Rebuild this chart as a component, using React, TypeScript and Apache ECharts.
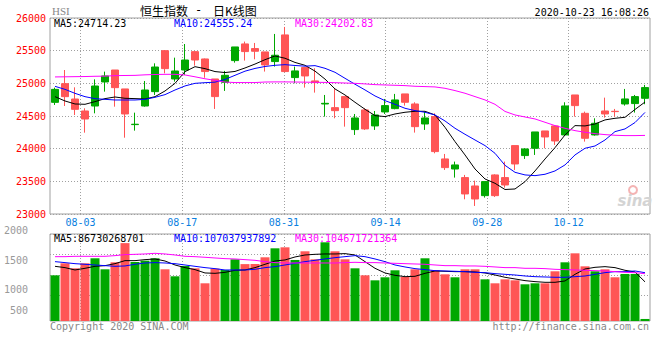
import React, { useEffect, useRef } from "react";
import * as echarts from "echarts";

const DATES = [
  "07-29", "07-30", "07-31", "08-03", "08-04", "08-05", "08-06", "08-07", "08-10", "08-11",
  "08-12", "08-13", "08-14", "08-17", "08-18", "08-19", "08-20", "08-21", "08-24", "08-25",
  "08-26", "08-27", "08-28", "08-31", "09-01", "09-02", "09-03", "09-04", "09-07", "09-08",
  "09-09", "09-10", "09-11", "09-14", "09-15", "09-16", "09-17", "09-18", "09-21", "09-22",
  "09-23", "09-24", "09-25", "09-28", "09-29", "09-30", "10-05", "10-06", "10-07", "10-08",
  "10-09", "10-12", "10-14", "10-15", "10-16", "10-19", "10-20", "10-21", "10-22", "10-23",
];
const TICK_DATES = ["08-03", "08-17", "08-31", "09-14", "09-28", "10-12"];

const OPEN = [
  24709, 24995, 24760, 24577, 24653, 25021, 25204, 24914, 24368, 24653,
  24873, 25500, 25067, 25204, 25485, 25373, 25067, 25016, 25348, 25603,
  25532, 25481, 25333, 25741, 25088, 25241, 25037, 24684, 24628, 24797,
  24292, 24593, 24348, 24562, 24613, 24838, 24684, 24378, 24491, 23843,
  23689, 23557, 23429, 23281, 23598, 23557, 24047, 23894, 24006, 24271,
  24348, 24210, 24822, 24541, 24210, 24577, 24572, 24684, 24690, 24771,
];
const CLOSE = [
  24908, 24796, 24602, 24454, 24959, 25113, 24934, 24531, 24374, 24898,
  25250, 25225, 25189, 25357, 25357, 25180, 24797, 25123, 25557, 25486,
  25491, 25282, 25430, 25180, 25190, 25113, 25011, 24694, 24582, 24628,
  24470, 24302, 24516, 24659, 24746, 24710, 24337, 24470, 23955, 23710,
  23751, 23307, 23230, 23496, 23281, 23444, 23766, 23996, 24256, 24179,
  24118, 24654, 24659, 24159, 24389, 24531, 24567, 24761, 24797, 24935,
];
const LOW = [
  24669, 24653, 24515, 24245, 24541, 24873, 24643, 24168, 24276, 24643,
  24822, 25153, 25026, 25128, 25271, 25085, 24608, 24884, 25317, 25348,
  25368, 25180, 25256, 25170, 25001, 24935, 24858, 24491, 24465, 24337,
  24210, 24287, 24287, 24531, 24603, 24659, 24246, 24287, 23929, 23674,
  23557, 23225, 23123, 23251, 23261, 23404, 23674, 23843, 23904, 24006,
  24057, 24200, 24491, 24108, 24200, 24475, 24491, 24659, 24552, 24680,
];
const HIGH = [
  24934, 25204, 24939, 24618, 25061, 25179, 25204, 24914, 24551, 25036,
  25306, 25510, 25393, 25602, 25495, 25380, 25067, 25190, 25557, 25639,
  25618, 25481, 25756, 25863, 25256, 25241, 25230, 24822, 24919, 24797,
  24531, 24618, 24577, 24761, 24838, 24838, 24710, 24567, 24541, 23919,
  23802, 23598, 23511, 23496, 23608, 23802, 24047, 24006, 24256, 24271,
  24348, 24710, 24822, 24567, 24465, 24781, 24608, 24914, 24822, 24976,
];

const MA5 = [
  24796, 24730, 24684, 24679, 24720, 24766, 24791, 24771, 24766, 24760,
  24796, 24883, 25000, 25179, 25255, 25225, 25180, 25165, 25182, 25235,
  25295, 25362, 25419, 25384, 25320, 25276, 25187, 25065, 24914, 24822,
  24710, 24603, 24506, 24491, 24531, 24557, 24572, 24572, 24516, 24327,
  24108, 23904, 23689, 23536, 23470, 23375, 23383, 23495, 23659, 23842,
  24016, 24210, 24353, 24348, 24378, 24440, 24465, 24480, 24600, 24714,
];
const MA10 = [
  24954, 24908, 24847, 24796, 24765, 24755, 24745, 24745, 24745, 24755,
  24786, 24827, 24898, 24960, 25000, 25010, 25018, 25060, 25123, 25186,
  25228, 25258, 25276, 25286, 25273, 25263, 25271, 25230, 25169, 25077,
  24986, 24899, 24807, 24735, 24679, 24618, 24582, 24557, 24516, 24424,
  24312, 24220, 24133, 24047, 23929, 23745, 23638, 23598, 23587, 23608,
  23659, 23751, 23904, 24006, 24041, 24133, 24261, 24302, 24400, 24555,
];
const MA30 = [
  25098, 25100, 25102, 25104, 25108, 25110, 25118, 25120, 25122, 25130,
  25135, 25138, 25138, 25128, 25100, 25070, 25045, 25020, 25012, 25012,
  25012, 25020, 25022, 25022, 25020, 25018, 25016, 25014, 25010, 25005,
  25000, 24991, 24980, 24975, 24970, 24965, 24955, 24950, 24945, 24924,
  24889, 24848, 24797, 24746, 24679, 24570, 24516, 24485, 24455, 24404,
  24353, 24312, 24276, 24251, 24230, 24215, 24205, 24200, 24200, 24203,
];

// turnover, in 100 millions HKD (亿)
const VOLUME = [
  1012, 1278, 1167, 1278, 1389, 1145, 1300, 1725, 1307, 1337,
  1389, 1145, 990, 1219, 1167, 835, 1160, 1130, 1366, 1260,
  1263, 1411, 1610, 1632, 1352, 1544, 1366, 1743, 1544, 1366,
  1167, 1012, 901, 968, 1123, 975, 1145, 1389, 1123, 1034,
  968, 1145, 1145, 923, 835, 923, 901, 813, 835, 835,
  1101, 1300, 1499, 1211, 1101, 1145, 968, 1042, 1042, 45,
];
const VOL_MA5 = [
  1211, 1182, 1130, 1167, 1211, 1226, 1270, 1337, 1337, 1359,
  1374, 1329, 1241, 1182, 1138, 1064, 1056, 1078, 1123, 1130,
  1182, 1256, 1329, 1352, 1418, 1462, 1477, 1485, 1485, 1492,
  1462, 1315, 1167, 1064, 1012, 982, 990, 1056, 1108, 1101,
  1093, 1093, 1086, 1064, 1019, 968, 931, 894, 872, 857,
  857, 887, 1034, 1152, 1189, 1204, 1182, 1123, 1086, 867,
];
const VOL_MA10 = [
  1315, 1293, 1270, 1256, 1241, 1226, 1211, 1219, 1256, 1285,
  1293, 1285, 1270, 1241, 1211, 1182, 1160, 1130, 1130, 1130,
  1145, 1182, 1204, 1241, 1278, 1315, 1344, 1374, 1403, 1425,
  1448, 1425, 1374, 1315, 1241, 1197, 1160, 1138, 1115, 1108,
  1101, 1093, 1078, 1071, 1049, 1034, 1019, 997, 982, 975,
  968, 968, 982, 997, 1034, 1071, 1093, 1093, 1108, 1070,
];
const VOL_MA30 = [
  1425, 1425, 1433, 1433, 1433, 1433, 1448, 1470, 1477, 1485,
  1499, 1485, 1462, 1433, 1425, 1411, 1396, 1381, 1374, 1359,
  1344, 1315, 1293, 1285, 1285, 1285, 1285, 1285, 1285, 1293,
  1300, 1293, 1293, 1285, 1278, 1270, 1263, 1256, 1241, 1226,
  1226, 1219, 1219, 1211, 1197, 1182, 1182, 1167, 1167, 1160,
  1145, 1138, 1130, 1123, 1115, 1108, 1093, 1078, 1071, 1047,
];
const VOL_TICKS = [500, 1000, 1500, 2000];

const TITLE_PARTS = ["恒生指数", "-", "日K线图"];
const SYMBOL = "HSI";
const TIMESTAMP = "2020-10-23 16:08:26";
const MAIN_LEGEND = ["MA5:24714.23", "MA10:24555.24", "MA30:24202.83"];
const VOL_LEGEND = ["MA5:86730268701", "MA10:107037937892", "MA30:104671721364"];
const COPYRIGHT = "Copyright 2020 SINA.COM";
const URL_TEXT = "http://finance.sina.com.cn";

const MONO = '"DejaVu Sans Mono", "Liberation Mono", monospace';
const RED = "#ff5555";
const GREEN = "#00a800";
const MA_COLORS = ["#000000", "#0000ff", "#ff00ff"];
const GRID_LINE = { color: "#a0a0a0", type: [1, 2] as any, width: 1 };
const FRAME = "#a0a0a0";

export default function App() {
  const ref = useRef<HTMLDivElement>(null);
  useEffect(() => {
    if (!ref.current) return;
    const chart = echarts.init(ref.current, null, { renderer: "svg" });
    const isTick = (_i: number, v: string) => TICK_DATES.includes(v);
    const volRich: any = {
      l2000: { padding: [0, 0, 8, 0] },
      l1500: { padding: [12, 0, 0, 0] },
      l1000: { padding: [30, 0, 0, 0] },
      l500: { padding: [31, 0, 0, 0] },
    };
    const legendText = (texts: string[], y: number) =>
      texts.map((t, i) => ({
        type: "text",
        x: [54, 174, 295][i],
        y,
        style: {
          text: t,
          fill: MA_COLORS[i],
          fontFamily: MONO,
          fontSize: 10,
          verticalAlign: "middle",
        },
        z: 10,
      }));
    const line = (data: number[], color: string, xi: number, yi: number) => ({
      type: "line",
      xAxisIndex: xi,
      yAxisIndex: yi,
      data,
      symbol: "none",
      silent: true,
      lineStyle: { color, width: 1 },
      z: 5,
    });
    const option: any = {
      animation: false,
      backgroundColor: "#ffffff",
      grid: [
        { left: 50, top: 18, width: 600, height: 196, show: true, borderColor: FRAME, borderWidth: 1, backgroundColor: "transparent" },
        { left: 50, top: 234, width: 600, height: 87, show: true, borderColor: FRAME, borderWidth: 1, backgroundColor: "transparent" },
      ],
      xAxis: [
        { type: "category", gridIndex: 0, position: "top", data: DATES, boundaryGap: true, show: false },
        {
          type: "category", gridIndex: 0, position: "bottom", data: DATES, boundaryGap: false,
          axisLine: { show: false }, axisTick: { show: false },
          axisLabel: { interval: isTick, color: "#0a80e0", fontFamily: MONO, fontSize: 10, margin: 3 },
          splitLine: { show: true, interval: isTick, lineStyle: GRID_LINE },
        },
        { type: "category", gridIndex: 1, position: "top", data: DATES, boundaryGap: true, show: false },
        {
          type: "category", gridIndex: 1, position: "bottom", data: DATES, boundaryGap: false,
          axisLine: { show: false }, axisTick: { show: false },
          axisLabel: { show: false },
          splitLine: { show: true, interval: isTick, lineStyle: GRID_LINE },
        },
      ],
      yAxis: [
        {
          type: "value", gridIndex: 0, position: "left", min: 23000, max: 26000, interval: 500,
          axisLine: { show: false }, axisTick: { show: false },
          axisLabel: {
            color: "#ff0000", fontFamily: MONO, fontSize: 10, margin: 4, padding: [0, 0, 4, 0],
            formatter: (v: number) => String(v),
          },
          splitLine: { show: true, lineStyle: GRID_LINE },
        },
        {
          type: "value", gridIndex: 1, position: "right", min: 0, max: 1927,
          axisLine: { show: false }, axisTick: { show: false }, axisLabel: { show: false },
          splitLine: { show: false },
        },
        {
          type: "value", gridIndex: 1, position: "left", min: -125, max: 2000,
          axisLine: { show: false },
          axisTick: { show: false, customValues: VOL_TICKS },
          axisLabel: {
            customValues: VOL_TICKS,
            color: "#999999", fontFamily: MONO, fontSize: 10, margin: 22,
            formatter: (v: number) => `{l${v}|${v}}`,
            rich: volRich,
          },
          splitLine: { show: true, lineStyle: GRID_LINE },
        },
      ],
      series: [
        {
          type: "candlestick",
          xAxisIndex: 0,
          yAxisIndex: 0,
          barWidth: 8,
          data: OPEN.map((o, i) => [o, CLOSE[i], LOW[i], HIGH[i]]),
          itemStyle: { color: GREEN, color0: RED, borderColor: GREEN, borderColor0: RED, borderWidth: 1 },
          silent: true,
          z: 3,
        },
        line(MA5, MA_COLORS[0], 0, 0),
        line(MA10, MA_COLORS[1], 0, 0),
        line(MA30, MA_COLORS[2], 0, 0),
        {
          type: "bar",
          xAxisIndex: 2,
          yAxisIndex: 1,
          barWidth: 9,
          silent: true,
          data: VOLUME.map((v, i) => ({
            value: v,
            itemStyle: { color: CLOSE[i] >= OPEN[i] ? GREEN : RED },
          })),
          z: 3,
        },
        line(VOL_MA5, MA_COLORS[0], 2, 1),
        line(VOL_MA10, MA_COLORS[1], 2, 1),
        line(VOL_MA30, MA_COLORS[2], 2, 1),
      ],
      graphic: [
        { type: "text", x: 52, y: 11, style: { text: SYMBOL, fill: "#888888", fontFamily: '"Liberation Serif", serif', fontSize: 11, verticalAlign: "middle" } },
        { type: "text", x: 140, y: 10, style: { text: TITLE_PARTS[0], fill: "#000", fontFamily: '"Noto Sans CJK SC"', fontSize: 12, verticalAlign: "middle" } },
        { type: "text", x: 195, y: 10, style: { text: TITLE_PARTS[1], fill: "#000", fontFamily: MONO, fontSize: 12, verticalAlign: "middle" } },
        { type: "text", x: 213, y: 10, style: { text: TITLE_PARTS[2], fill: "#000", fontFamily: '"Noto Sans CJK SC"', fontSize: 12, verticalAlign: "middle" } },
        { type: "text", x: 649, y: 12, style: { text: TIMESTAMP, fill: "#000", fontFamily: MONO, fontSize: 10, align: "right", verticalAlign: "middle" } },
        ...legendText(MAIN_LEGEND, 23.5),
        ...legendText(VOL_LEGEND, 238.5),
        { type: "text", x: 50, y: 326, style: { text: COPYRIGHT, fill: "#888888", fontFamily: MONO, fontSize: 10, verticalAlign: "middle" } },
        { type: "text", x: 649, y: 326, style: { text: URL_TEXT, fill: "#888888", fontFamily: MONO, fontSize: 10, align: "right", verticalAlign: "middle" } },
        { type: "circle", shape: { cx: 633, cy: 190, r: 4 }, style: { fill: "none", stroke: "#f4b4b4", lineWidth: 2 }, z: 1 },
        { type: "text", x: 635, y: 201, style: { text: "sina", fill: "#d4d4d4", fontFamily: '"DejaVu Sans"', fontSize: 15, fontWeight: "bold", fontStyle: "italic", align: "center", verticalAlign: "middle" }, z: 1 },
      ],
    };
    chart.setOption(option);
    return () => chart.dispose();
  }, []);
  return (
    <div
      ref={ref}
      style={{ position: "fixed", left: 0, top: 0, width: 660, height: 360, background: "#fff" }}
    />
  );
}
